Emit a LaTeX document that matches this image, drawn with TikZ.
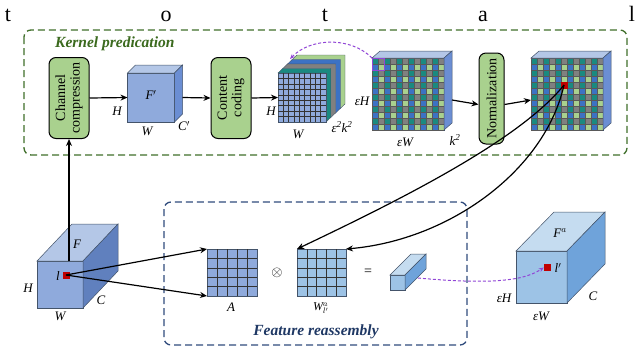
\documentclass[tikz,border=0pt]{standalone}
\usepackage{fontspec}
\setmainfont{Liberation Serif}
\usetikzlibrary{arrows.meta,calc}
\definecolor{boxgreen}{HTML}{A9D18E}
\definecolor{ck0}{HTML}{1A8A80}
\definecolor{ck1}{HTML}{3C72C4}
\definecolor{ck2}{HTML}{808080}
\definecolor{ck3}{HTML}{A9D18E}
\definecolor{cubefront}{HTML}{8FAADC}
\definecolor{cubetop}{HTML}{B4C7E7}
\definecolor{cubeside}{HTML}{6B8ED3}
\definecolor{lbfront}{HTML}{9DC3E6}
\definecolor{lbtop}{HTML}{C5DCF0}
\definecolor{lbside}{HTML}{6FA3DA}
\definecolor{edgec}{HTML}{44546A}
\definecolor{kgreen}{HTML}{3F6E2A}
\definecolor{ktext}{HTML}{3B6A1E}
\definecolor{fblue}{HTML}{2F4B7C}
\definecolor{ftext}{HTML}{1F3864}
\definecolor{purp}{HTML}{9146D6}
\definecolor{redsq}{HTML}{C00000}
\tikzset{
  arr/.style={-{Stealth[length=7pt,width=6pt]}, line width=1.2pt},
  procbox/.style={draw=black, line width=1pt, fill=boxgreen, rounded corners=7pt, rotate=90, align=center, font=\fontsize{14}{14.5}\selectfont, inner sep=0pt},
  lab/.style={font=\fontsize{13}{15}\selectfont\itshape, inner sep=0pt},
  face/.style={draw=edgec, line width=0.5pt, inner sep=0pt, outer sep=0pt},
  facel/.style={draw=edgec, line width=0.5pt},
  gridl/.style={draw=black!80, line width=0.45pt},
  ckl/.style={draw=black!65, line width=0.3pt},
  pdash/.style={draw=purp, line width=1pt, dash pattern=on 3pt off 2pt},
  bigletter/.style={font=\fontsize{22}{24}\selectfont, anchor=base, inner sep=0pt},
}
\begin{document}
\begin{tikzpicture}[x=1pt,y=-1pt]
\useasboundingbox (0,0) rectangle (642,349);
% top letters
\node[bigletter] (t1) at (8,21) {t};
\node[bigletter] (t2) at (166,21) {o};
\node[bigletter] (t3) at (325,21) {t};
\node[bigletter] (t4) at (483,21) {a};
\node[bigletter] (t5) at (632,21) {l};
% dashed frames
\draw[kgreen, line width=1.3pt, dash pattern=on 7pt off 4pt, rounded corners=7pt] (24,30) rectangle (627,155);
\node[anchor=base west, inner sep=0pt, text=ktext, font=\fontsize{15.5}{17}\selectfont\bfseries\itshape] (kp) at (55,47) {Kernel predication};
\draw[fblue, line width=1.3pt, dash pattern=on 7pt off 4pt, rounded corners=7pt] (164,202) rectangle (467,345);
\node[anchor=base, inner sep=0pt, text=ftext, font=\fontsize{15.5}{17}\selectfont\bfseries\itshape] (fr) at (316,335) {Feature reassembly};
% process boxes
\node[procbox, minimum width=81pt, minimum height=40pt] (cc) at (69,98) {Channel\\compression};
\node[procbox, minimum width=81pt, minimum height=40pt] (cd) at (231,98) {Content\\coding};
\node[procbox, minimum width=91pt, minimum height=25pt] (nm) at (491.5,98.5) {Normalization};
% cube F'
\node[face, fill=cubefront, minimum width=47pt, minimum height=49pt] (fp) at (151,97.5) {};
\filldraw[facel, fill=cubetop] (fp.north west) -- ++(8,-8) -- ++(47,0) -- (fp.north east) -- cycle;
\filldraw[facel, fill=cubeside] (fp.north east) -- ++(8,-8) -- ++(0,49) -- (fp.south east) -- cycle;
\node[lab] (fpl) at (151,95) {F$'$};
\node[lab] (fph) at (117,111) {H};
\node[lab] (fpw) at (147,131) {W};
\node[lab] (fpc) at (184,126) {C$'$};
% stacked cube
\node[face, fill=cubefront, minimum width=48pt, minimum height=49pt] (sg) at (302,97.5) {};
\foreach \k/\col in {4/ck3,3/ck1,2/ck2,1/ck0} {
  \filldraw[fill=\col, draw=edgec, line width=0.4pt] ($(sg.north west)+({(\k-1)*4.75},{-(\k-1)*4.5})$) -- ++(4.75,-4.5) -- ++(48,0) -- ++(0,49) -- ++(-4.75,4.5) -- ++(0,-49) -- ++(-48,0) -- cycle;
}
\node[face, fill=cubefront, minimum width=48pt, minimum height=49pt] (sg2) at (302,97.5) {};
\foreach \i in {1,...,8} {
  \draw[gridl] ($(sg.north west)+({\i*48/9},0)$) -- ($(sg.south west)+({\i*48/9},0)$);
  \draw[gridl] ($(sg.north west)+(0,{\i*49/9})$) -- ($(sg.north east)+(0,{\i*49/9})$);
}
\node[lab] (sgh) at (271,111) {H};
\node[lab] (sgw) at (298,134) {W};
\node[lab] (sgk) at (342,127) {ε\textsuperscript{2}k\textsuperscript{2}};
% checker grid 1
\node[face, minimum width=72pt, minimum height=72pt] (g1) at (408,94) {};
\foreach \c in {0,...,11} { \foreach \r in {0,...,11} {
  \pgfmathtruncatemacro{\idx}{2*mod(\c,2)+mod(\r,2)}
  \fill[ck\idx] ($(g1.north west)+(\c*6,\r*6)$) rectangle ++(6,6);
}}
\foreach \i in {0,...,12} {
  \draw[ckl] ($(g1.north west)+(\i*6,0)$) -- ++(0,72);
  \draw[ckl] ($(g1.north west)+(0,\i*6)$) -- ++(72,0);
}
\filldraw[facel, fill=cubetop] (g1.north west) -- ++(8,-7) -- ++(72,0) -- (g1.north east) -- cycle;
\filldraw[facel, fill=cubeside] (g1.north east) -- ++(8,-7) -- ++(0,72) -- (g1.south east) -- cycle;
\node[draw=purp, line width=0.9pt, minimum size=12pt, inner sep=0pt, anchor=north west] (psq) at (g1.north west) {};
\node[lab] (g1h) at (362,101) {εH};
\node[lab] (g1w) at (405,142) {εW};
\node[lab] (g1k) at (455,140) {k\textsuperscript{2}};
% checker grid 2
\node[face, minimum width=72pt, minimum height=72pt] (g2) at (567,94) {};
\foreach \c in {0,...,11} { \foreach \r in {0,...,11} {
  \pgfmathtruncatemacro{\idx}{2*mod(\c,2)+mod(\r,2)}
  \fill[ck\idx] ($(g2.north west)+(\c*6,\r*6)$) rectangle ++(6,6);
}}
\foreach \i in {0,...,12} {
  \draw[ckl] ($(g2.north west)+(\i*6,0)$) -- ++(0,72);
  \draw[ckl] ($(g2.north west)+(0,\i*6)$) -- ++(72,0);
}
\filldraw[facel, fill=cubetop] (g2.north west) -- ++(8,-7) -- ++(72,0) -- (g2.north east) -- cycle;
\filldraw[facel, fill=cubeside] (g2.north east) -- ++(8,-7) -- ++(0,72) -- (g2.south east) -- cycle;
\node[fill=redsq, minimum size=7pt, inner sep=0pt] (rsq) at ($(g2.north west)+(33,27)$) {};
% purple arc
\coordinate (stk) at (290,59);
\draw[pdash, -{Stealth[length=5pt,width=4pt]}] (psq.north west) .. controls (350,36) and (310,38) .. (stk);
% arrows in kernel prediction
\draw[arr] (cc.south) -- (fp.west);
\draw[arr] ($(fp.east)+(8,0)$) -- (cd.north);
\draw[arr] (cd.south) -- (sg.west);
\draw[arr] ($(g1.east)+(8,6)$) -- ($(nm.north)+(0,6)$);
\draw[arr] ($(nm.south)+(0,6)$) -- ($(g2.west)+(0,6)$);
% input cube
\node[face, fill=cubefront, minimum width=46pt, minimum height=47pt] (fin) at (60,284.5) {};
\filldraw[facel, fill=cubetop] (fin.north west) -- ++(35,-37) -- ++(46,0) -- (fin.north east) -- cycle;
\filldraw[facel, fill=cubeside!90!black] (fin.north east) -- ++(35,-37) -- ++(0,47) -- (fin.south east) -- cycle;
\node[fill=redsq, minimum size=7pt, inner sep=0pt] (lsq) at (66,275) {};
\node[lab] (finF) at (77,244) {F};
\node[lab] (finH) at (28,288) {H};
\node[lab] (finW) at (60,316) {W};
\node[lab] (finC) at (101,300) {C};
\node[lab] (finl) at (58,276) {l};
\draw[arr] (cc.west |- fin.north) -- (cc.west);
% A grid
\node[face, fill=cubefront, minimum width=50pt, minimum height=47pt] (agrid) at (232,272.5) {};
\foreach \i in {1,...,4} {
  \draw[gridl] ($(agrid.north west)+(\i*10,0)$) -- ++(0,47);
  \draw[gridl] ($(agrid.north west)+(0,{\i*47/5})$) -- ++(50,0);
}
\node[lab] (al) at (231,307) {A};
\draw[arr] (lsq.center) -- (agrid.north west);
\draw[arr] (lsq.center) -- (agrid.south west);
\node[inner sep=0pt, font=\fontsize{14}{14}\selectfont] (otm) at (277,273) {$\otimes$};
% W grid
\node[face, fill=lbfront, minimum width=49pt, minimum height=47pt] (wgrid) at (321.5,272.5) {};
\foreach \i in {1,...,4} {
  \draw[gridl] ($(wgrid.north west)+({\i*49/5},0)$) -- ++(0,47);
  \draw[gridl] ($(wgrid.north west)+(0,{\i*47/5})$) -- ++(49,0);
}
\node[lab, font=\fontsize{12}{14}\selectfont\itshape] (wl) at (321,308) {W$_{l'}^{a}$};
\node[inner sep=0pt, font=\fontsize{14}{14}\selectfont] (eqs) at (368,272) {=};
% curved arrows
\draw[arr] (rsq.center) .. controls (520,140) and (400,200) .. (wgrid.north west);
\draw[arr] (rsq.center) .. controls (545,170) and (450,240) .. (wgrid.north east);
% small box
\node[face, fill=lbfront, minimum width=15pt, minimum height=15pt] (sb) at (397.5,282.5) {};
\filldraw[facel, fill=lbtop] (sb.north west) -- ++(21,-21) -- ++(15,0) -- (sb.north east) -- cycle;
\filldraw[facel, fill=lbside] (sb.north east) -- ++(21,-21) -- ++(0,15) -- (sb.south east) -- cycle;
% output cube
\node[face, fill=lbfront, minimum width=51pt, minimum height=52pt] (fo) at (541.5,277) {};
\filldraw[facel, fill=lbtop] (fo.north west) -- ++(38,-39) -- ++(51,0) -- (fo.north east) -- cycle;
\filldraw[facel, fill=lbside] (fo.north east) -- ++(38,-39) -- ++(0,52) -- (fo.south east) -- cycle;
\node[fill=redsq, minimum size=7pt, inner sep=0pt] (osq) at (547.5,267.5) {};
\node[lab] (foF) at (560,233) {F$^{a}$};
\node[lab] (foH) at (504,298) {εH};
\node[lab] (foW) at (541,316) {εW};
\node[lab] (foC) at (593,296) {C};
\node[lab] (fol) at (558,268) {l$'$};
\coordinate (sbs) at (418,278);
\draw[pdash, -{Stealth[length=5pt,width=4pt]}] (sbs) .. controls (495,285) and (525,280) .. (osq.west);
\end{tikzpicture}
\end{document}
